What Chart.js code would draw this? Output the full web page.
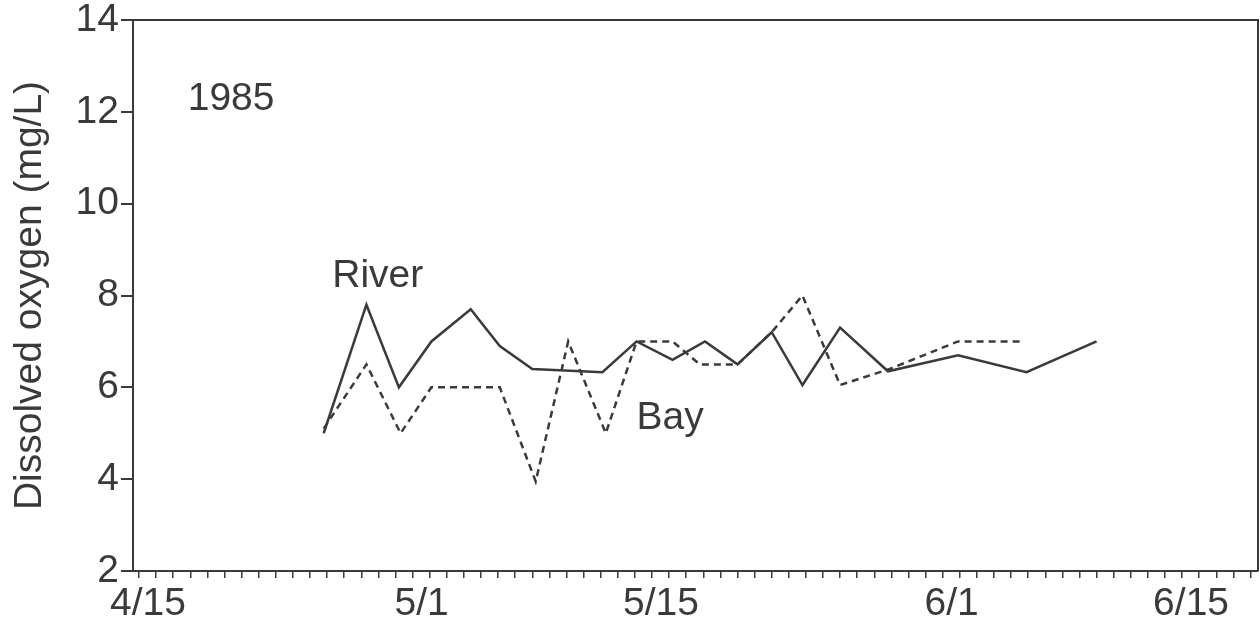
<!DOCTYPE html>
<html>
<head>
<meta charset="utf-8">
<title>Dissolved oxygen 1985</title>
<script src="https://cdn.jsdelivr.net/npm/chart.js@4.4.1/dist/chart.umd.min.js"></script>
<style>
  html, body { margin: 0; padding: 0; background: #fff; }
  #wrap { width: 1260px; height: 626px; }
</style>
</head>
<body>
<div id="wrap"><canvas id="doChart" width="1260" height="626"></canvas></div>
<script>
// Days counted from 4/15 (day 0)
const riverDays = [10.8, 13.3, 15.2, 17.1, 19.4, 21.1, 23, 27.1, 29.1, 31.2, 33.1, 35, 37, 38.8, 41, 43.8, 47.9, 51.9, 56];
const riverDO   = [5.0, 7.8, 6.0, 7.0, 7.7, 6.9, 6.4, 6.33, 7.0, 6.6, 7.0, 6.5, 7.2, 6.05, 7.3, 6.35, 6.7, 6.33, 7.0];

const bayDays = [10.8, 13.3, 15.3, 17.1, 21.1, 23.2, 25.1, 27.3, 29.1, 31.2, 32.8, 35, 37, 38.8, 41, 43.9, 47.9, 51.5];
const bayDO   = [5.1, 6.5, 5.0, 6.0, 6.0, 3.95, 7.0, 5.0, 7.0, 7.0, 6.5, 6.5, 7.2, 8.0, 6.05, 6.4, 7.0, 7.0];

const dateTickDays   = [0, 16, 30, 47, 61];
const dateTickLabels = ['4/15', '5/1', '5/15', '6/1', '6/15'];
const yTicks = [2, 4, 6, 8, 10, 12, 14];

const INK = '#3a3a3a';
const FONT = "'Liberation Sans', Arial, Helvetica, sans-serif";
const FONT_SIZE = 39;

function toPoints(xs, ys) {
    return xs.map((x, i) => ({ x: x, y: ys[i] }));
}

// plot frame + text labels inside the plot
const annotate = {
    id: 'annotate',
    afterDraw(chart) {
        const { ctx, chartArea: a, scales } = chart;
        ctx.save();
        ctx.strokeStyle = INK;
        ctx.lineWidth = 2;
        ctx.beginPath();
        ctx.moveTo(a.left, a.top);
        ctx.lineTo(a.right, a.top);
        ctx.lineTo(a.right, a.bottom);
        ctx.stroke();

        ctx.fillStyle = INK;
        ctx.font = FONT_SIZE + 'px ' + FONT;
        ctx.textBaseline = 'alphabetic';
        ctx.textAlign = 'left';
        const xs = scales.x, ys = scales.y;
        ctx.fillText('1985', xs.getPixelForValue(2.85), ys.getPixelForValue(12.05));
        ctx.fillText('River', xs.getPixelForValue(11.3), ys.getPixelForValue(8.19));
        ctx.fillText('Bay', xs.getPixelForValue(29.1), ys.getPixelForValue(5.1));
        ctx.restore();
    }
};

new Chart(document.getElementById('doChart'), {
    type: 'scatter',
    data: {
        datasets: [
            {
                label: 'River',
                data: toPoints(riverDays, riverDO),
                showLine: true,
                borderColor: INK,
                borderWidth: 2.5,
                pointRadius: 0,
                tension: 0
            },
            {
                label: 'Bay',
                data: toPoints(bayDays, bayDO),
                showLine: true,
                borderColor: INK,
                borderWidth: 2.5,
                borderDash: [7, 5],
                pointRadius: 0,
                tension: 0
            }
        ]
    },
    options: {
        responsive: false,
        animation: false,
        layout: { padding: { top: 20, right: 2, left: 0, bottom: 0 } },
        plugins: {
            legend: { display: false },
            tooltip: { enabled: false }
        },
        scales: {
            x: {
                type: 'linear',
                min: -0.35,
                max: 65.44,
                afterBuildTicks: scale => {
                    const t = [];
                    for (let d = 0; d <= 65; d++) t.push({ value: d });
                    scale.ticks = t;
                },
                afterFit: scale => {
                    scale.height = 55;
                    scale.paddingLeft = 0;
                    scale.paddingRight = 0;
                },
                ticks: {
                    autoSkip: false,
                    maxRotation: 0,
                    labelOffset: 9,
                    padding: 3,
                    color: INK,
                    font: { family: FONT, size: FONT_SIZE },
                    callback: v => {
                        const i = dateTickDays.indexOf(v);
                        return i >= 0 ? dateTickLabels[i] : '';
                    }
                },
                grid: {
                    drawOnChartArea: false,
                    tickLength: 7,
                    color: INK,
                    lineWidth: 1.5
                },
                border: { color: INK, width: 2 }
            },
            y: {
                min: 2,
                max: 14,
                afterBuildTicks: scale => {
                    scale.ticks = yTicks.map(v => ({ value: v }));
                },
                afterFit: scale => {
                    scale.width = 133;
                    scale.paddingTop = 0;
                    scale.paddingBottom = 0;
                },
                ticks: {
                    padding: 2,
                    color: INK,
                    font: { family: FONT, size: FONT_SIZE }
                },
                grid: {
                    drawOnChartArea: false,
                    tickLength: 12,
                    color: INK,
                    lineWidth: 2
                },
                border: { color: INK, width: 2 },
                title: {
                    display: true,
                    text: 'Dissolved oxygen (mg/L)',
                    color: INK,
                    font: { family: FONT, size: FONT_SIZE },
                    padding: { top: 7, bottom: 0 }
                }
            }
        }
    },
    plugins: [annotate]
});
</script>
</body>
</html>
